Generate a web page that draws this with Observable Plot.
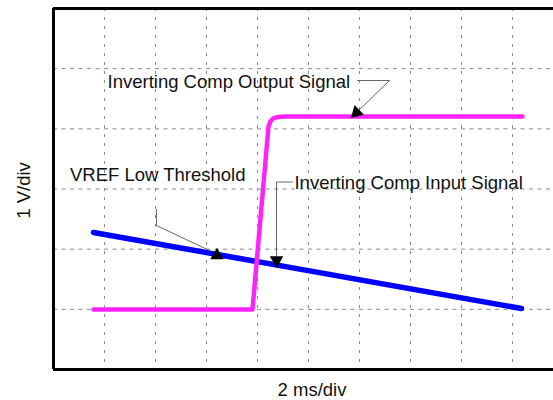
<!DOCTYPE html>
<html>
<head>
<meta charset="utf-8">
<script src="https://cdn.jsdelivr.net/npm/d3@7"></script>
<script src="https://cdn.jsdelivr.net/npm/@observablehq/plot@0.6"></script>
<style>
  html, body { margin: 0; padding: 0; background: #fff; }
  #chart svg { display: block; }
</style>
</head>
<body>
<div id="chart"></div>
<script>
// Divisions (time in divisions of 2 ms, voltage in divisions of 1 V)
const gridX = [1, 2, 3, 4, 5, 6, 7, 8, 9];
const gridY = [1, 2, 3, 4, 5];

// Inverting comparator output signal (magenta)
const outputT = [0.784, 3.902, 4.216, 4.250, 4.300, 4.400, 4.549, 9.196];
const outputV = [0.997, 0.997, 4.040, 4.120, 4.170, 4.198, 4.205, 4.205];

// Inverting comparator input signal (blue ramp)
const inputT = [0.784, 9.176];
const inputV = [2.277, 1.014];

// Annotation labels
const labelText = ["Inverting Comp Output Signal", "VREF Low Threshold", "Inverting Comp Input Signal"];
const labelT = [1.059, 0.324, 4.725];
const labelV = [4.785, 3.239, 3.106];

// Leader lines (id per annotation)
const leaderId = ["out", "out", "out", "ref", "ref", "ref", "in", "in", "in"];
const leaderT = [5.961, 6.588, 5.882, 2.020, 2.020, 3.098, 4.686, 4.373, 4.373];
const leaderV = [4.803, 4.803, 4.221, 2.659, 2.393, 1.961, 3.116, 3.116, 1.861];

// Arrowheads
const headT = [5.941, 3.206, 4.373];
const headV = [4.271, 1.895, 1.816];
const headRotate = [-134, 0, 180];

const xLabel = "2 ms/div";
const yLabel = "1 V/div";

const outputData = outputT.map((t, i) => ({t, v: outputV[i]}));
const inputData = inputT.map((t, i) => ({t, v: inputV[i]}));
const labels = labelText.map((s, i) => ({s, t: labelT[i], v: labelV[i]}));
const leaders = leaderT.map((t, i) => ({id: leaderId[i], t, v: leaderV[i]}));
const heads = headT.map((t, i) => ({t, v: headV[i], r: headRotate[i]}));

const font = "Liberation Sans, Arial, Helvetica, sans-serif";

const chart = Plot.plot({
  width: 553,
  height: 400,
  marginLeft: 53,
  marginRight: 0,
  marginTop: 8,
  marginBottom: 31,
  x: {domain: [0, 500 / 51], axis: null},
  y: {domain: [0, 6], axis: null},
  style: {fontFamily: font, background: "#fff"},
  marks: [
    Plot.ruleX(gridX, {stroke: "#8a8a8a", strokeWidth: 1, strokeDasharray: "3,6"}),
    Plot.ruleY(gridY, {stroke: "#8a8a8a", strokeWidth: 1, strokeDasharray: "4,4.5"}),
    Plot.ruleX([0], {stroke: "#000", strokeWidth: 3}),
    Plot.ruleY([0, 6], {stroke: "#000", strokeWidth: 3}),
    Plot.line(inputData, {x: "t", y: "v", stroke: "#0000ff", strokeWidth: 5.5, strokeLinecap: "round"}),
    Plot.line(outputData, {x: "t", y: "v", stroke: "#ff22ff", strokeWidth: 4.5, strokeLinecap: "round", strokeLinejoin: "round"}),
    Plot.line(leaders, {x: "t", y: "v", z: "id", stroke: "#555", strokeWidth: 0.9}),
    Plot.dot(heads, {x: "t", y: "v", symbol: "triangle", r: 5, fill: "#000", stroke: "none", rotate: "r"}),
    Plot.text(labels, {x: "t", y: "v", text: "s", textAnchor: "start", fontSize: 18.5, fill: "#111"}),
    Plot.text([xLabel], {x: [(311.5 - 53) / 51], frameAnchor: "bottom", lineAnchor: "middle", textAnchor: "middle", dy: 21, fontSize: 18.5, fill: "#111"}),
    Plot.text([yLabel], {frameAnchor: "left", textAnchor: "middle", lineAnchor: "middle", dx: -29, dy: 1.5, rotate: -90, fontSize: 18.5, fill: "#111"})
  ]
});
document.getElementById("chart").appendChild(chart);
</script>
</body>
</html>
